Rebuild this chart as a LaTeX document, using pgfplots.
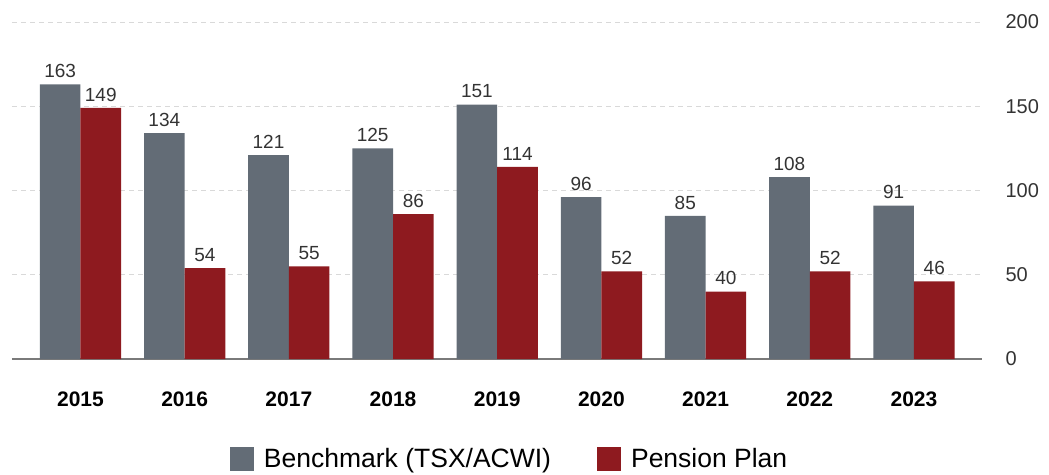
\documentclass[border=0pt]{standalone}
\usepackage{pgfplots}
\pgfplotsset{compat=1.18}
\usepackage{fontspec}
\setmainfont{Liberation Sans}
\definecolor{bench}{HTML}{636C76}
\definecolor{pens}{HTML}{8E1A1F}
\definecolor{gridc}{HTML}{D9D9D9}
\definecolor{axc}{HTML}{7A7A7A}
\definecolor{txt}{HTML}{333333}
\begin{document}
\begin{tikzpicture}
\useasboundingbox (-12pt,-115pt) rectangle (1037pt,359pt);
\begin{axis}[
  scale only axis,
  width=970pt, height=337pt,
  ybar=0pt, bar width=0.39,
  xmin=-0.657, xmax=8.653,
  ymin=0, ymax=200,
  axis x line*=bottom,
  axis y line*=right,
  x axis line style={draw=axc, line width=1.3pt, -},
  y axis line style={draw=none},
  xtick=data,
  xticklabels={2015,2016,2017,2018,2019,2020,2021,2022,2023},
  xtick style={draw=none},
  ytick={0,50,100,150,200},
  ytick style={draw=none},
  ymajorgrids,
  grid style={gridc, dash pattern=on 5pt off 4pt, line width=0.9pt},
  /pgf/number format/assume math mode=true,
  xticklabel style={font=\fontsize{21}{24}\selectfont\bfseries, text=black, yshift=-25pt},
  yticklabel style={font=\fontsize{20}{24}\selectfont, text=txt, anchor=west, xshift=20pt},
  nodes near coords,
  every node near coord/.append style={font=\fontsize{19}{22}\selectfont, text=txt, yshift=3pt},
  legend columns=2,
  legend style={draw=none, at={(0.513,-0.297)}, anchor=center, font=\fontsize{26.5}{30}\selectfont,
    /tikz/every odd column/.append style={column sep=8pt},
    /tikz/every even column/.append style={column sep=44pt}},
  legend image code/.code={\fill[#1] (0pt,-12pt) rectangle (24pt,12pt);},
]
\addplot[fill=bench, draw=none] coordinates {(0,163) (1,134) (2,121) (3,125) (4,151) (5,96) (6,85) (7,108) (8,91)};
\addplot[fill=pens, draw=none] coordinates {(0,149) (1,54) (2,55) (3,86) (4,114) (5,52) (6,40) (7,52) (8,46)};
\legend{Benchmark (TSX/ACWI), Pension Plan}
\end{axis}
\end{tikzpicture}
\end{document}
